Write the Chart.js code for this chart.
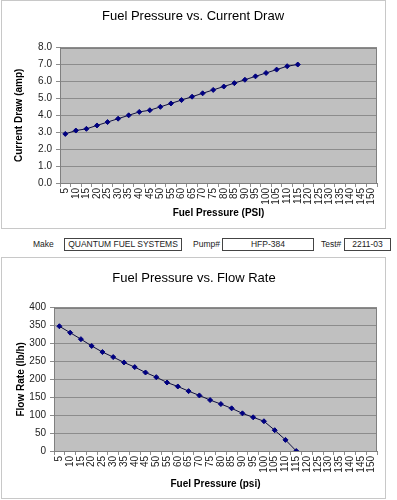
<!DOCTYPE html>
<html>
<head>
<meta charset="utf-8">
<script src="https://cdn.jsdelivr.net/npm/chart.js@4"></script>
<style>
    html, body { margin: 0; padding: 0; background: #fff; }
    #page { position: relative; width: 397px; height: 500px; overflow: hidden; font-family: "Liberation Sans", Arial, sans-serif; }
    .chart-box { position: absolute; left: 1px; width: 383px; border: 1px solid #c8c8c8; }
    .chart-box canvas { display: block; }
    #boxTop    { top: 0px;   height: 227px; }
    #boxBottom { top: 257px; height: 240px; }
    .info-label { position: absolute; top: 238px; font-size: 8.5px; line-height: 13px; color: #222; white-space: nowrap; }
    .info-field { position: absolute; top: 238px; height: 11px; border: 1px solid #444; font-size: 8.5px; line-height: 11px;
                  text-align: center; color: #222; white-space: nowrap; overflow: hidden; }
</style>
</head>
<body>
<div id="page">
    <div class="chart-box" id="boxTop"><canvas id="currentChart" width="383" height="227"></canvas></div>

    <div class="info-label" style="left:33px">Make</div>
    <div class="info-field" style="left:64px;width:116px">QUANTUM FUEL SYSTEMS</div>
    <div class="info-label" style="left:193px">Pump#</div>
    <div class="info-field" style="left:222px;width:90px">HFP-384</div>
    <div class="info-label" style="left:321px">Test#</div>
    <div class="info-field" style="left:344px;width:45px">2211-03</div>

    <div class="chart-box" id="boxBottom"><canvas id="flowChart" width="383" height="240"></canvas></div>
</div>

<script>
// ── Data ──────────────────────────────────────────────────────
const pressureLabels = [
    '5', '10', '15', '20', '25', '30', '35', '40', '45', '50',
    '55', '60', '65', '70', '75', '80', '85', '90', '95', '100',
    '105', '110', '115', '120', '125', '130', '135', '140', '145', '150'
];

const currentDraw = [
    2.9, 3.1, 3.2, 3.4, 3.6, 3.8, 4.0, 4.2, 4.3, 4.5,
    4.7, 4.9, 5.1, 5.3, 5.5, 5.7, 5.9, 6.1, 6.3, 6.5,
    6.7, 6.9, 7.0
];

const flowRate = [
    348, 330, 312, 293, 276, 262, 247, 234, 219, 206,
    191, 180, 167, 155, 142, 131, 119, 105, 94, 83,
    58, 31, 0
];

const FONT = '"Liberation Sans", Arial, sans-serif';
const GRID_COLOR  = '#8c8c8c';
const PLOT_BG     = '#c0c0c0';
const MARKER      = '#000080';

// ── Plot area background + border (Excel look) ────────────────
const plotAreaPlugin = {
    id: 'plotArea',
    beforeDraw(chart) {
        const { ctx, chartArea: a } = chart;
        ctx.save();
        ctx.fillStyle = PLOT_BG;
        ctx.fillRect(a.left, a.top, a.right - a.left, a.bottom - a.top);
        ctx.restore();
    },
    beforeDatasetsDraw(chart) {
        const { ctx, chartArea: a } = chart;
        ctx.save();
        ctx.strokeStyle = '#808080';
        ctx.lineWidth = 1;
        ctx.strokeRect(Math.round(a.left) + 0.5, Math.round(a.top) + 0.5,
                       Math.round(a.right - a.left) - 1, Math.round(a.bottom - a.top));
        ctx.restore();
    }
};

function makeChart(id, opts) {
    const ctx = document.getElementById(id).getContext('2d');
    return new Chart(ctx, {
        type: 'line',
        data: {
            labels: pressureLabels,
            datasets: [{
                data: opts.values,
                borderColor: '#101040',
                borderWidth: 1,
                backgroundColor: MARKER,
                pointStyle: 'rectRot',
                pointRadius: 2.5,
                pointBorderColor: MARKER,
                pointBackgroundColor: MARKER,
                pointBorderWidth: 1,
                tension: 0
            }]
        },
        options: {
            responsive: false,
            animation: false,
            layout: { padding: opts.padding },
            plugins: {
                legend: { display: false },
                tooltip: { enabled: false },
                title: {
                    display: true,
                    text: opts.title,
                    color: '#000',
                    font: { family: FONT, size: 13, weight: 'normal', lineHeight: 1.2 },
                    padding: opts.titlePad
                }
            },
            scales: {
                x: {
                    offset: true,
                    grid: { offset: true, drawOnChartArea: false, tickLength: 4, color: GRID_COLOR },
                    border: { display: true, color: '#808080' },
                    ticks: {
                        autoSkip: false, minRotation: 90, maxRotation: 90,
                        padding: 1, color: '#222',
                        font: { family: FONT, size: 10 }
                    },
                    title: {
                        display: true, text: opts.xTitle, color: '#000',
                        font: { family: FONT, size: 10, weight: 'bold', lineHeight: 1.2 },
                        padding: { top: 4, bottom: 4 }
                    },
                    afterFit: s => { s.height = opts.xHeight; }
                },
                y: {
                    min: opts.yMin, max: opts.yMax,
                    grid: { color: GRID_COLOR, tickLength: 4 },
                    border: { display: true, color: '#808080' },
                    ticks: {
                        stepSize: opts.yStep, padding: 4, color: '#222',
                        font: { family: FONT, size: 10 },
                        callback: opts.yFormat
                    },
                    title: {
                        display: true, text: opts.yTitle, color: '#000',
                        font: { family: FONT, size: 10, weight: 'bold', lineHeight: 1.2 },
                        padding: { top: 4, bottom: 4 }
                    },
                    afterFit: s => { s.width = opts.yWidth; }
                }
            }
        },
        plugins: [plotAreaPlugin]
    });
}

// ── Fuel Pressure vs. Current Draw ────────────────────────────
makeChart('currentChart', {
    values: currentDraw,
    title: 'Fuel Pressure vs. Current Draw',
    titlePad: { top: 8, bottom: 23 },
    padding: { left: 7, right: 8, top: 0, bottom: 5 },
    xTitle: 'Fuel Pressure (PSI)',
    yTitle: 'Current Draw (amp)',
    yMin: 0, yMax: 8, yStep: 1,
    yFormat: v => Number(v).toFixed(1),
    xHeight: 40,
    yWidth: 51
});

// ── Fuel Pressure vs. Flow Rate ───────────────────────────────
makeChart('flowChart', {
    values: flowRate,
    title: 'Fuel Pressure vs. Flow Rate',
    titlePad: { top: 13, bottom: 21 },
    padding: { left: 9, right: 8, top: 0, bottom: 4 },
    xTitle: 'Fuel Pressure (psi)',
    yTitle: 'Flow Rate (lb/h)',
    yMin: 0, yMax: 400, yStep: 50,
    yFormat: v => v,
    xHeight: 43,
    yWidth: 43
});
</script>
</body>
</html>
